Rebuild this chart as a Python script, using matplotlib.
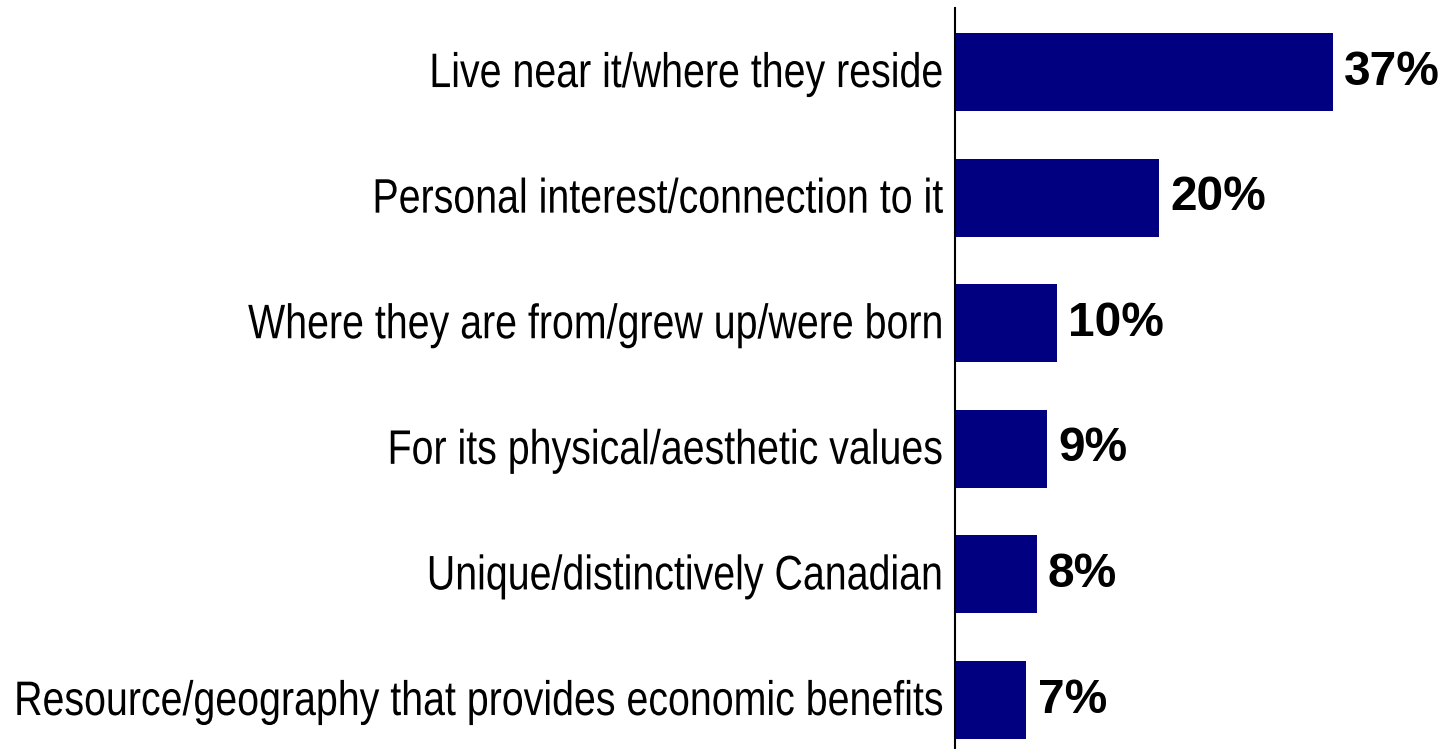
import matplotlib
matplotlib.use("Agg")
import matplotlib.pyplot as plt
from matplotlib import patheffects
from matplotlib.text import Text
from matplotlib.textpath import TextPath
from matplotlib.font_manager import FontProperties
from matplotlib.transforms import Affine2D, Bbox, ScaledTranslation

categories = [
    "Live near it/where they reside",
    "Personal interest/connection to it",
    "Where they are from/grew up/were born",
    "For its physical/aesthetic values",
    "Unique/distinctively Canadian",
    "Resource/geography that provides economic benefits",
]
values = [37, 20, 10, 9, 8, 7]


class Squeeze(patheffects.AbstractPathEffect):
    """Condense glyphs horizontally about the text origin."""

    def __init__(self, sx):
        super().__init__()
        self.sx = sx

    def draw_path(self, renderer, gc, tpath, affine, rgbFace=None):
        x0 = affine.transform((0, 0))[0]
        aff = affine + Affine2D().translate(-x0, 0).scale(self.sx, 1).translate(x0, 0)
        renderer.draw_path(gc, tpath, aff, rgbFace)


class CondensedText(Text):
    """Text set in a horizontally condensed form; layout uses the condensed width."""

    def __init__(self, *args, squeeze=1.0, **kwargs):
        super().__init__(*args, **kwargs)
        self._squeeze = squeeze
        self.set_path_effects([Squeeze(squeeze)])

    def _get_layout(self, renderer):
        bbox, info, descent = super()._get_layout(renderer)
        s = self._squeeze
        x1 = bbox.x1
        bbox = Bbox.from_extents(x1 - (x1 - bbox.x0) * s, bbox.y0, x1, bbox.y1)
        info = [(line, wh, x1 + (x - x1) * s, y) for line, wh, x, y in info]
        return bbox, info, descent


W, H = 1450, 749
fig = plt.figure(figsize=(W / 100, H / 100), dpi=100)
ax = fig.add_axes([955 / W, 0.0, 495 / W, 741 / H])

y = list(range(len(categories)))
ax.barh(y, values, height=0.62, color="#000080")

ax.set_xlim(0, 48.5)
ax.set_ylim(5.39, -0.51)
ax.set_yticks([])
ax.set_xticks([])

for s in ["top", "right", "bottom"]:
    ax.spines[s].set_visible(False)
ax.spines["left"].set_linewidth(1.5)
ax.spines["left"].set_color("#000000")

# Category labels in a condensed sans-serif
label_size = 34.9
label_prop = FontProperties(family="Liberation Sans", size=label_size)
widest = max(TextPath((0, 0), c, size=label_size * 100 / 72, prop=label_prop).get_extents().x1
             for c in categories)
squeeze = 928 / widest
label_tr = ax.get_yaxis_transform() + ScaledTranslation(-12 / 100, -15 / 100, fig.dpi_scale_trans)

for yi, c in zip(y, categories):
    fig.add_artist(CondensedText(0, yi, c, transform=label_tr, ha="right", va="baseline",
                                 fontsize=label_size, family="Liberation Sans",
                                 clip_on=False, squeeze=squeeze))

# Value labels at the end of each bar
for yi, v in zip(y, values):
    ax.annotate(f"{v}%", xy=(v, yi), xytext=(8, 0), textcoords="offset points",
                va="center", ha="left", fontsize=34.5, fontweight="bold",
                family="Liberation Sans")

fig.savefig("out.png", dpi=100)
